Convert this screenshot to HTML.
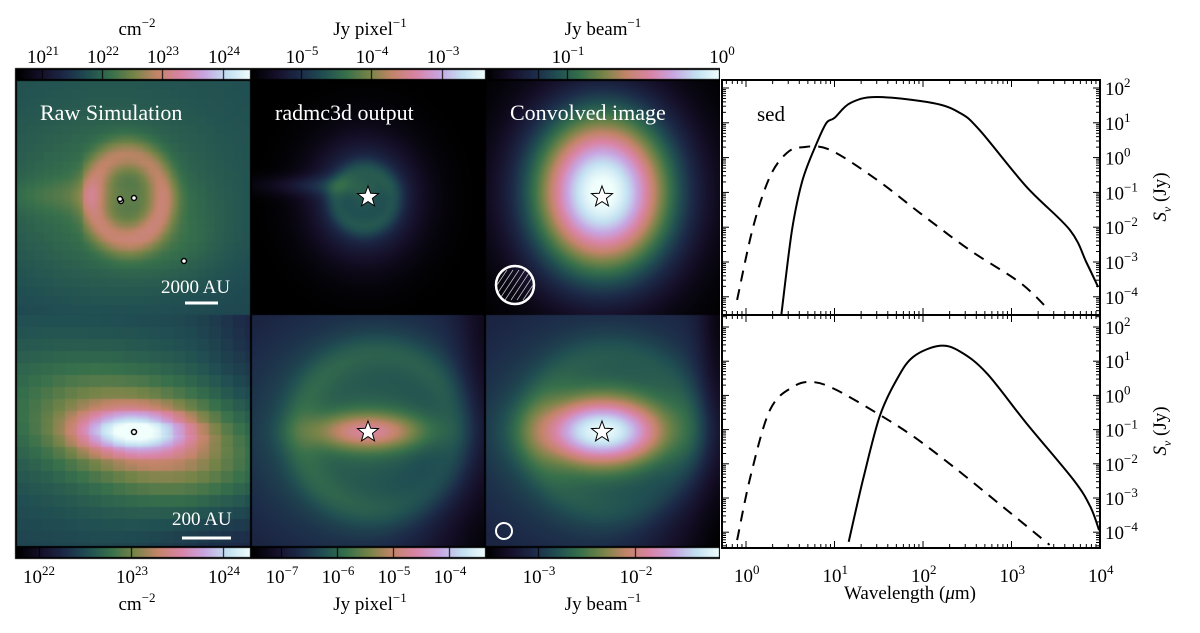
<!DOCTYPE html>
<html><head><meta charset="utf-8">
<style>
html,body{margin:0;padding:0;background:#fff;}
#wrap{position:relative;width:1200px;height:633px;overflow:hidden;font-family:"Liberation Serif",serif;color:#000;}
canvas{position:absolute;}
.t{position:absolute;white-space:nowrap;font-size:19px;line-height:1;}
.c{transform:translateX(-50%);}
sup{font-size:13px;vertical-align:0;position:relative;top:-8px;}
.w{color:#fff;font-size:22px;}
</style></head>
<body>
<div id="wrap">
<canvas id="img" width="720" height="633" style="left:0;top:0"></canvas>
<svg id="ov" width="1200" height="633" style="position:absolute;left:0;top:0"></svg>

<div class="t c" style="left:137px;top:20px">cm<sup>−2</sup></div>
<div class="t c" style="left:370px;top:20px">Jy pixel<sup>−1</sup></div>
<div class="t c" style="left:603px;top:20px">Jy beam<sup>−1</sup></div>

<div class="t c" style="left:43px;top:48px">10<sup>21</sup></div>
<div class="t c" style="left:103px;top:48px">10<sup>22</sup></div>
<div class="t c" style="left:163px;top:48px">10<sup>23</sup></div>
<div class="t c" style="left:224px;top:48px">10<sup>24</sup></div>
<div class="t c" style="left:302px;top:48px">10<sup>−5</sup></div>
<div class="t c" style="left:372px;top:48px">10<sup>−4</sup></div>
<div class="t c" style="left:443px;top:48px">10<sup>−3</sup></div>
<div class="t c" style="left:568px;top:48px">10<sup>−1</sup></div>
<div class="t c" style="left:722px;top:48px">10<sup>0</sup></div>

<div class="t c" style="left:39px;top:568px">10<sup>22</sup></div>
<div class="t c" style="left:132px;top:568px">10<sup>23</sup></div>
<div class="t c" style="left:224px;top:568px">10<sup>24</sup></div>
<div class="t c" style="left:282px;top:568px">10<sup>−7</sup></div>
<div class="t c" style="left:338px;top:568px">10<sup>−6</sup></div>
<div class="t c" style="left:394px;top:568px">10<sup>−5</sup></div>
<div class="t c" style="left:450px;top:568px">10<sup>−4</sup></div>
<div class="t c" style="left:539px;top:568px">10<sup>−3</sup></div>
<div class="t c" style="left:636px;top:568px">10<sup>−2</sup></div>

<div class="t c" style="left:137px;top:595px">cm<sup>−2</sup></div>
<div class="t c" style="left:370px;top:595px">Jy pixel<sup>−1</sup></div>
<div class="t c" style="left:603px;top:595px">Jy beam<sup>−1</sup></div>

<div class="t w" style="left:40px;top:102px">Raw Simulation</div>
<div class="t w" style="left:275px;top:102px">radmc3d output</div>
<div class="t w" style="left:510px;top:102px">Convolved image</div>
<div class="t w" style="left:161px;top:278px;font-size:19px">2000 AU</div>
<div class="t w" style="left:172px;top:510px;font-size:19px">200 AU</div>
<div class="t" style="left:757px;top:104px;font-size:21px">sed</div>
<div class="t c" style="left:910px;top:584px">Wavelength (<i>μ</i>m)</div>
<div class="t" style="left:1162px;top:197px;transform:translate(-50%,-50%) rotate(-90deg)"><i>S<sub style="font-size:12px">ν</sub></i> (Jy)</div>
<div class="t" style="left:1162px;top:431px;transform:translate(-50%,-50%) rotate(-90deg)"><i>S<sub style="font-size:12px">ν</sub></i> (Jy)</div>
</div>

<script>
// ---------- SED data (log10 wavelength [um], log10 flux [Jy]) ----------
const topSolidX = [0.40,0.52,0.64,0.80,0.91,1.00,1.18,1.48,2.11,2.42,2.64,3.17,3.66,3.85,3.98];
const topSolidY = [-4.5,-2.08,-0.64,0.42,1.00,1.14,1.57,1.74,1.57,1.28,0.79,-0.84,-2.08,-3.03,-3.72];
const topDashX = [-0.10,0.08,0.27,0.46,0.64,0.95,1.48,1.97,2.53,3.10,3.43];
const topDashY = [-4.09,-2.0,-0.55,0.13,0.30,0.22,-0.64,-1.6,-2.66,-3.6,-4.4];
const botSolidX = [1.16,1.33,1.51,1.70,1.89,2.19,2.42,2.72,3.17,3.70,3.89,3.99];
const botSolidY = [-4.28,-2.38,-0.62,0.45,1.13,1.45,1.28,0.65,-0.82,-2.47,-3.25,-3.94];
const botDashX = [-0.10,0.05,0.27,0.53,0.76,1.02,1.48,1.89,2.34,2.90,3.43];
const botDashY = [-4.23,-2.38,-0.43,0.25,0.39,0.16,-0.52,-1.2,-2.08,-3.25,-4.37];
const xTickExps = [0,1,2,3,4];
const yTickExps = [2,1,0,-1,-2,-3,-4];

const NS='http://www.w3.org/2000/svg';
const ov=document.getElementById('ov');
function el(tag,attrs,parent){const e=document.createElementNS(NS,tag);for(const k in attrs)e.setAttribute(k,attrs[k]);(parent||ov).appendChild(e);return e;}

const X0=722,X1=1100;
function xs(l){return 746+(l)*88.5;}
const panels=[{top:80,bot:315,y2:88,dec:34.8},{top:315,bot:548,y2:327,dec:34.2}];
function ysF(p){return l=>p.y2+(2-l)*p.dec;}
function smooth(P){let d='M'+P[0][0].toFixed(1)+','+P[0][1].toFixed(1);
  for(let i=0;i<P.length-1;i++){const p0=P[Math.max(0,i-1)],p1=P[i],p2=P[i+1],p3=P[Math.min(P.length-1,i+2)];
    const c1=[p1[0]+(p2[0]-p0[0])/6,p1[1]+(p2[1]-p0[1])/6],c2=[p2[0]-(p3[0]-p1[0])/6,p2[1]-(p3[1]-p1[1])/6];
    d+='C'+c1[0].toFixed(1)+','+c1[1].toFixed(1)+' '+c2[0].toFixed(1)+','+c2[1].toFixed(1)+' '+p2[0].toFixed(1)+','+p2[1].toFixed(1);}
  return d;}

panels.forEach((p,pi)=>{
  const ys=ysF(p);
  const g=el('g',{});
  
  
  const clipId='clip'+pi;
  const cp=el('clipPath',{id:clipId},g);
  el('rect',{x:X0,y:p.top,width:X1-X0,height:p.bot-p.top},cp);
  el('rect',{x:X0,y:p.top,width:X1-X0,height:p.bot-p.top,fill:'#fff',stroke:'none'},g);
  const xsArr=pi?botSolidX:topSolidX, ysArr=pi?botSolidY:topSolidY;
  const xdArr=pi?botDashX:topDashX, ydArr=pi?botDashY:topDashY;
  const mk=(ax,ay)=>smooth(ax.map((v,i)=>[xs(v),ys(ay[i])]));
  const s=el('path',{d:mk(xsArr,ysArr),fill:'none',stroke:'#000','stroke-width':2,'stroke-linejoin':'round','clip-path':'url(#'+clipId+')'},g);
  
  
  const d=el('path',{d:mk(xdArr,ydArr),fill:'none',stroke:'#000','stroke-width':2,'stroke-dasharray':'11,8','clip-path':'url(#'+clipId+')'},g);
  
  
  for(let e=-1;e<=4;e++){for(let m=1;m<10;m++){const lx=e+Math.log10(m);const x=xs(lx);if(x<X0||x>X1)continue;const L=m==1?7:4;
    el('line',{x1:x,x2:x,y1:p.bot,y2:p.bot-L,stroke:'#000','stroke-width':1},g);
    el('line',{x1:x,x2:x,y1:p.top,y2:p.top+L,stroke:'#000','stroke-width':1},g);}}
  for(let e=-5;e<=2;e++){for(let m=1;m<10;m++){const ly=e+Math.log10(m);const y=ys(ly);if(y<p.top||y>p.bot)continue;const L=m==1?7:4;
    el('line',{x1:X1,x2:X1-L,y1:y,y2:y,stroke:'#000','stroke-width':1},g);
    el('line',{x1:X0,x2:X0+L,y1:y,y2:y,stroke:'#000','stroke-width':1},g);}}
  yTickExps.forEach(e=>{const t=el('text',{x:1105,y:ys(e)+7,'font-family':'Liberation Serif, serif','font-size':19},g);
    
    t.textContent='10';const sp=el('tspan',{dy:-8,'font-size':13},t);sp.textContent=(e<0?'−':'')+Math.abs(e);});
  el('rect',{x:X0,y:p.top,width:X1-X0,height:p.bot-p.top,fill:'none',stroke:'#000','stroke-width':2},g);
});
xTickExps.forEach(e=>{const t=el('text',{x:xs(e)-12,y:582,'font-family':'Liberation Serif, serif','font-size':19});
  
  t.textContent='10';const sp=el('tspan',{dy:-8,'font-size':13},t);sp.textContent=e;});

// ---------- images ----------
const cstops=[[0,0,0,0],[0.1,22,16,42],[0.2,28,42,72],[0.3,32,78,82],[0.4,55,112,75],[0.5,118,132,72],[0.6,195,132,105],[0.7,218,132,165],[0.8,200,165,225],[0.9,195,225,242],[1,240,255,252]];
function cmap(v){v=Math.max(0,Math.min(1,v));for(let i=1;i<cstops.length;i++){if(v<=cstops[i][0]){const a=cstops[i-1],b=cstops[i],t=(v-a[0])/(b[0]-a[0]);return[a[1]+t*(b[1]-a[1]),a[2]+t*(b[2]-a[2]),a[3]+t*(b[3]-a[3])];}}return[240,255,252];}
const cv=document.getElementById('img');const ctx=cv.getContext('2d');
const G=(dx,dy,sx,sy)=>Math.exp(-(dx*dx/(2*sx*sx)+dy*dy/(2*sy*sy)));
const funcs=[
 (u,v)=>{let bu=Math.floor(u/9)*9,bv=Math.floor(v/9)*9;const dx=u-110,dy=v-117,r=Math.hypot(dx,dy*0.85);
   let f=0.27+0.13*G(bu-90,bv-120,80,65)+0.03*(1-bv/234);
   f+=0.06*G(u-60,v-115,60,12);
   f+=0.2*Math.exp(-Math.pow((r-36)/15,2))*(dx>-45?1:0.6);
   f+=0.05*G(u-150,v-160,40,25);
   return f;},
 (u,v)=>{const dx=u-112,dy=v-118,r=Math.hypot(dx,dy);let f=0.32*G(dx,dy,36,40)+0.1*G(u-60,v-105,40,7);
   f+=0.08*Math.exp(-Math.pow((r-30)/10,2));return f;},
 (u,v)=>{const dx=u-116,dy=v-112;return 1.02*G(dx,dy,50,58);},
 (u,v)=>{let bu=Math.floor(u/12)*12,bv=Math.floor(v/12)*12;const dx=bu-116,dy=bv-116;
   const rx=dx*0.95+dy*0.3,ry=-dx*0.3+dy*0.95;
   let f=0.26+0.15*G(rx,ry,130,65)+0.24*G(rx-10,ry,70,34)+0.42*G(u-116,v-116,38,14);
   f-=0.12*G(bu-234,bv-234,70,60)+0.08*G(bu-234,bv,30,60);return f;},
 (u,v)=>{const dx=u-116,dy=v-116;let f=0.14+0.22*G(dx,dy,90,80)+0.33*G(dx,dy,40,13);
   f+=0.08*Math.exp(-Math.pow((Math.hypot(dx-10,dy)-80)/20,2));
   f-=0.14*G(u-234,v-234,50,70)+0.12*G(u-234,v-40,20,90);return f;},
 (u,v)=>{const dx=u-116,dy=v-116;let f=0.14+0.21*G(dx,dy,90,80)+0.64*G(dx,dy,44,23);
   f+=0.06*Math.exp(-Math.pow((Math.hypot(dx-10,dy)-80)/20,2));
   f-=0.15*G(u-234,v-234,50,70)+0.14*G(u-234,v-30,15,100);return f;}
];
const boxes=[[17,80],[252,80],[486,80],[17,315],[252,315],[486,315]];
boxes.forEach((b,i)=>{const W=235,H=235;const im=ctx.createImageData(W,H);
  for(let v=0;v<H;v++)for(let u=0;u<W;u++){const c=cmap(funcs[i](u,v));const k=(v*W+u)*4;im.data[k]=c[0];im.data[k+1]=c[1];im.data[k+2]=c[2];im.data[k+3]=255;}
  ctx.putImageData(im,b[0],b[1]);});
function cbar(x,y,w){for(let i=0;i<w;i++){const c=cmap(i/w);ctx.fillStyle=`rgb(${c[0]|0},${c[1]|0},${c[2]|0})`;ctx.fillRect(x+i,y,1,9);}}
ctx.fillStyle='#000';ctx.fillRect(15,68,706,13);ctx.fillRect(15,546,706,13);
ctx.fillRect(15,80,2,470);ctx.fillRect(250,80,2,470);ctx.fillRect(484,80,2,470);
[[17,70],[252,70],[486,70],[17,548],[252,548],[486,548]].forEach(p=>cbar(p[0],p[1],233));
ctx.fillStyle='#000';
[42,102,162,223,301,371,442,567,538].forEach(x=>ctx.fillRect(x,70,1,9));
[39,131,223,281,337,393,449,538,635].forEach(x=>ctx.fillRect(x,548,1,9));

function star(cx,cy,R,name){const pts=[];for(let i=0;i<10;i++){const a=-Math.PI/2+i*Math.PI/5,r=i%2?R*0.42:R;pts.push((cx+r*Math.cos(a)).toFixed(1)+','+(cy+r*Math.sin(a)).toFixed(1));}
  const s=el('polygon',{points:pts.join(' '),fill:'#fff',stroke:'#000','stroke-width':1});}
star(368,197,11,'star-marker');star(602,197,11,'star-marker');star(368,432,11,'star-marker');star(602,432,11,'star-marker');
[[121,201],[134,198],[184,261],[134,432],[120,199]].forEach(p=>{const c=el('circle',{cx:p[0],cy:p[1],r:2.5,fill:'#fff',stroke:'#000','stroke-width':1.5});});
const bc=el('clipPath',{id:'bc'});el('circle',{cx:515,cy:285,r:18},bc);
let bm=el('ellipse',{cx:515,cy:285,rx:19,ry:19,fill:'none',stroke:'#fff','stroke-width':2.5});
for(let k=-3;k<=3;k++){el('line',{x1:515+k*6-10,y1:300,x2:515+k*6+10,y2:270,stroke:'#bbb','stroke-width':0.8,'clip-path':'url(#bc)'});}
bm=el('ellipse',{cx:504,cy:531,rx:8,ry:8,fill:'none',stroke:'#fff','stroke-width':2});
let sb=el('line',{x1:185,x2:218,y1:303,y2:303,stroke:'#fff','stroke-width':3});
sb=el('line',{x1:182,x2:231,y1:538,y2:538,stroke:'#fff','stroke-width':3});
</script>
</body></html>
